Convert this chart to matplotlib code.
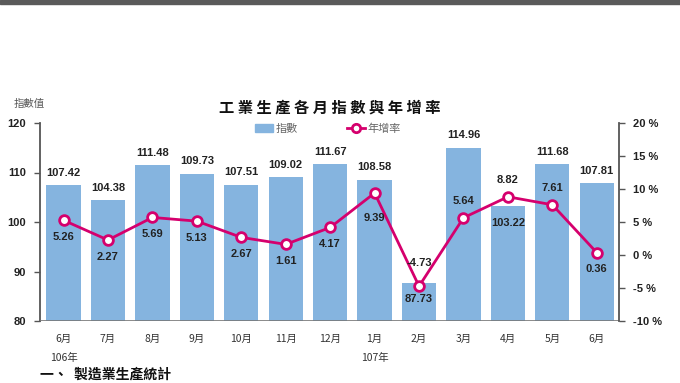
import matplotlib
matplotlib.use("Agg")
import matplotlib.pyplot as plt
from matplotlib.patches import Rectangle
from matplotlib.lines import Line2D

plt.rcParams['font.family'] = ['Noto Sans CJK TC', 'DejaVu Sans']

months = ["6月", "7月", "8月", "9月", "10月", "11月", "12月", "1月", "2月", "3月", "4月", "5月", "6月"]
index_vals = [107.42, 104.38, 111.48, 109.73, 107.51, 109.02, 111.67, 108.58, 87.73, 114.96, 103.22, 111.68, 107.81]
yoy_vals = [5.26, 2.27, 5.69, 5.13, 2.67, 1.61, 4.17, 9.39, -4.73, 5.64, 8.82, 7.61, 0.36]
year_labels = {0: "106年", 7: "107年"}
left_ticks = [80, 90, 100, 110, 120]
right_ticks = [-10, -5, 0, 5, 10, 15, 20]

bar_color = "#85B4DF"
line_color = "#D5006D"
text_color = "#222222"

fig = plt.figure(figsize=(6.8, 3.83), dpi=100)
fig.patch.set_facecolor("white")
fig.add_artist(Rectangle((0, 1 - 4 / 383), 1, 4 / 383, transform=fig.transFigure,
                         color="#5a5a5a", zorder=10))

ax = fig.add_axes([40 / 680, 1 - 321 / 383, (619 - 40) / 680, (321 - 123) / 383])
ax2 = ax.twinx()

x = list(range(len(months)))
ax.bar(x, index_vals, width=0.77, color=bar_color, zorder=2)
ax.set_ylim(80, 120)
ax.set_xlim(-0.53, 12.5)
ax.set_yticks(left_ticks)
ax.set_yticklabels([str(t) for t in left_ticks], fontsize=8, fontweight='bold',
                   color=text_color, family=['Liberation Sans', 'DejaVu Sans'])
ax.set_xticks(x)
ax.set_xticklabels(months, fontsize=7.5, style='italic', color="#333333")
ax.tick_params(axis='x', length=0, pad=9)
ax.tick_params(axis='y', direction='out', length=4, width=1, color="#555555", pad=6)
for s in ["top", "right", "bottom"]:
    ax.spines[s].set_visible(False)
ax.spines["left"].set_color("#555555")
ax.spines["left"].set_linewidth(1.3)
ax.axhline(80, color="#777777", lw=1.2, zorder=3)

ax2.plot(x, yoy_vals, color=line_color, lw=2, marker='o', markersize=7,
         markerfacecolor='white', markeredgecolor=line_color, markeredgewidth=2, zorder=5)
ax2.set_ylim(-10, 20)
ax2.set_yticks(right_ticks)
ax2.set_yticklabels([f"{t} %" for t in right_ticks], fontsize=8, fontweight='bold',
                    color=text_color, family=['Liberation Sans', 'DejaVu Sans'])
ax2.tick_params(axis='y', direction='out', length=4, width=1, color="#555555", pad=6)
for s in ["top", "left", "bottom"]:
    ax2.spines[s].set_visible(False)
ax2.spines["right"].set_color("#555555")
ax2.spines["right"].set_linewidth(1.3)

lab_font = dict(fontsize=8, fontweight='bold', color=text_color,
                family=['Liberation Sans', 'DejaVu Sans'], ha='center')

# bar value labels: above bars except where the line marker is near
below_bar = {8, 10}
for i, v in enumerate(index_vals):
    if i in below_bar:
        ax.annotate(f"{v:.2f}", (i, v), xytext=(0, -12), textcoords='offset points',
                    va='center', zorder=6, **lab_font)
    else:
        ax.annotate(f"{v:.2f}", (i, v), xytext=(0, 9), textcoords='offset points',
                    va='center', zorder=6, **lab_font)

# line value labels
above_line = {8, 9, 10, 11}
for i, v in enumerate(yoy_vals):
    if i in above_line:
        dy = 12 if i != 8 else 17
        ax2.annotate(f"{v:.2f}", (i, v), xytext=(0, dy), textcoords='offset points',
                     va='center', zorder=6, **lab_font)
    else:
        dy = -12 if i != 7 else -18
        ax2.annotate(f"{v:.2f}", (i, v), xytext=(0, dy), textcoords='offset points',
                     va='center', zorder=6, **lab_font)

# year labels under month labels
for i, lab in year_labels.items():
    ax.text(i, -0.187, lab, transform=ax.get_xaxis_transform(), ha='center', va='center',
            fontsize=7.5, color="#333333")

# axis label
fig.text(14 / 680, 1 - 104 / 383, "指數值", fontsize=7.5, color="#555555", va='center', ha='left')

# title
title = " ".join("工業生產各月指數與年增率")
fig.text(330 / 680, 1 - 107 / 383, title, fontsize=11, fontweight='bold', color="#111111",
         ha='center', va='center')

# legend
handles = [Rectangle((0, 0), 1, 1, color=bar_color),
           Line2D([], [], color=line_color, lw=2, marker='o', markersize=6,
                  markerfacecolor='white', markeredgecolor=line_color, markeredgewidth=2)]
leg = fig.legend(handles, ["指數", "年增率"], loc='center', ncol=2,
                 bbox_to_anchor=(328 / 680, 1 - 129 / 383), frameon=False,
                 fontsize=8, handlelength=1.6, handletextpad=0.2, columnspacing=4.5,
                 labelcolor="#666666")

# section heading at bottom
fig.text(40 / 680, 1 - 382 / 383, "一、  製造業生產統計", fontsize=10, fontweight='bold',
         color="#111111", ha='left', va='bottom')

fig.savefig("out.png", dpi=100, facecolor="white")
